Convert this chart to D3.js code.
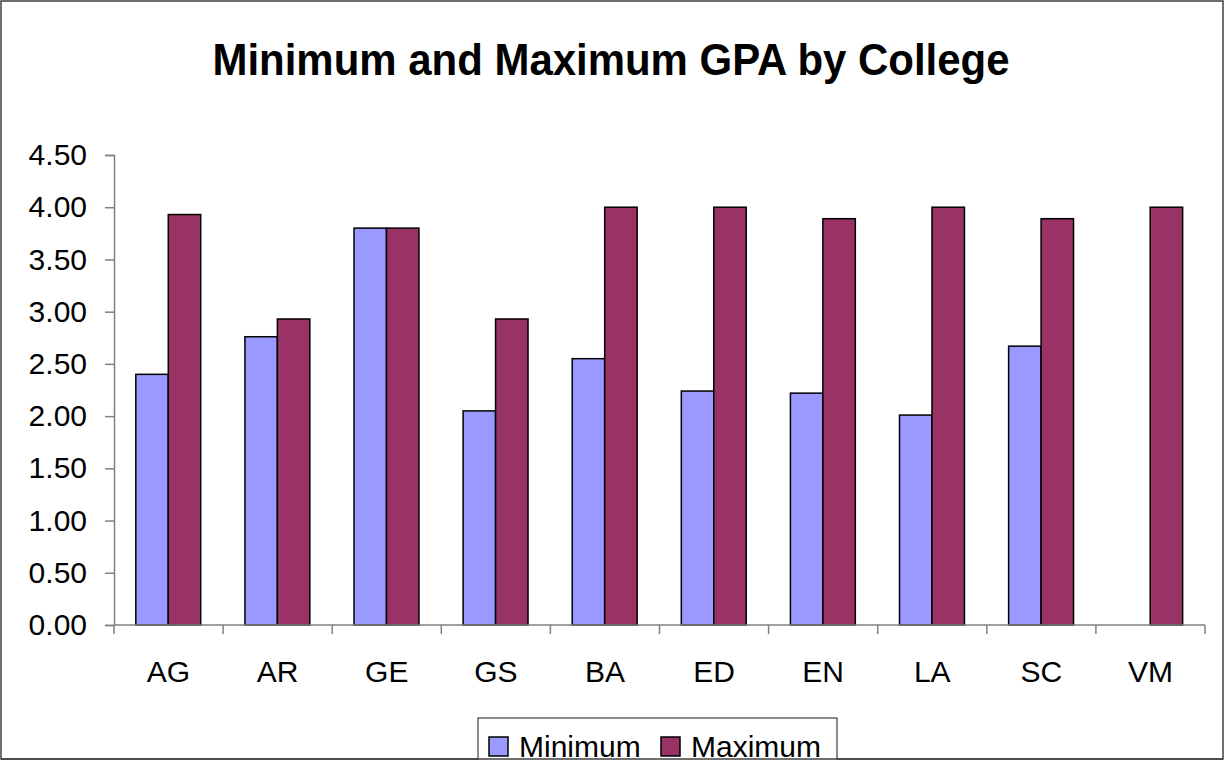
<!DOCTYPE html>
<html>
<head>
<meta charset="utf-8">
<script src="https://cdn.jsdelivr.net/npm/d3@7"></script>
<style>
  body { margin: 0; background: #fff; }
  svg text { font-family: "Liberation Sans", Arial, sans-serif; fill: #000; }
</style>
</head>
<body>
<div id="chart"></div>
<script>
const colleges = ["AG", "AR", "GE", "GS", "BA", "ED", "EN", "LA", "SC", "VM"];
const minimumGpa = [2.40, 2.76, 3.80, 2.05, 2.55, 2.24, 2.22, 2.01, 2.67, 0];
const maximumGpa = [3.93, 2.93, 3.80, 2.93, 4.00, 4.00, 3.89, 4.00, 3.89, 4.00];
const seriesNames = ["Minimum", "Maximum"];
const seriesColors = ["#9999FF", "#993366"];
const yTicks = [0, 0.5, 1, 1.5, 2, 2.5, 3, 3.5, 4, 4.5];

const W = 1225, H = 761;
const plot = { left: 114, right: 1205, top: 155, bottom: 625 };

const svg = d3.select("#chart")
  .append("svg")
  .attr("width", W)
  .attr("height", H);

// outer frame
svg.append("rect")
  .attr("x", 1).attr("y", 1)
  .attr("width", 1222).attr("height", 758)
  .attr("fill", "#fff")
  .attr("stroke", "#404040")
  .attr("stroke-width", 1.5);

// Title
svg.append("text")
  .attr("x", 611)
  .attr("y", 75)
  .attr("text-anchor", "middle")
  .attr("font-size", 44)
  .attr("font-weight", "bold")
  .attr("textLength", 797)
  .attr("lengthAdjust", "spacingAndGlyphs")
  .text("Minimum and Maximum GPA by College");

const x0 = d3.scaleBand()
  .domain(colleges)
  .range([plot.left, plot.right]);

const bw = x0.bandwidth();
const x1 = d3.scaleBand()
  .domain(seriesNames)
  .range([bw * 0.2, bw * 0.795]);

const y = d3.scaleLinear()
  .domain([0, 4.5])
  .range([plot.bottom, plot.top]);

const data = colleges.map((c, i) => ({
  college: c,
  values: [minimumGpa[i], maximumGpa[i]]
}));

// Bars
const groups = svg.append("g")
  .selectAll("g")
  .data(data)
  .enter()
  .append("g")
  .attr("transform", (d) => `translate(${x0(d.college)},0)`);

groups.selectAll("rect")
  .data((d) => d.values.map((v, i) => ({ key: seriesNames[i], value: v, i })))
  .enter()
  .filter((d) => d.value > 0)
  .append("rect")
  .attr("x", (d) => x1(d.key))
  .attr("y", (d) => y(d.value))
  .attr("width", x1.bandwidth())
  .attr("height", (d) => y(0) - y(d.value))
  .attr("fill", (d) => seriesColors[d.i])
  .attr("stroke", "#000")
  .attr("stroke-width", 1.5);

// Y axis
const yAxis = svg.append("g")
  .attr("transform", `translate(${plot.left},0)`)
  .call(d3.axisLeft(y).tickValues(yTicks).tickFormat(d3.format(".2f")).tickSize(9).tickPadding(18));
yAxis.selectAll("text").attr("font-size", 30).attr("fill", "#000");

// X axis: ticks at band boundaries
const xAxis = svg.append("g")
  .attr("transform", `translate(0,${plot.bottom})`);
xAxis.append("line")
  .attr("x1", plot.left).attr("x2", plot.right)
  .attr("stroke", "#808080").attr("stroke-width", 1.5);
const bounds = colleges.map((c) => x0(c)).concat([plot.right]);
xAxis.selectAll(".tick-mark")
  .data(bounds)
  .enter()
  .append("line")
  .attr("class", "tick-mark")
  .attr("x1", (d) => d).attr("x2", (d) => d)
  .attr("y1", 0).attr("y2", 9)
  .attr("stroke", "#808080").attr("stroke-width", 1.5);
xAxis.selectAll(".cat")
  .data(colleges)
  .enter()
  .append("text")
  .attr("class", "cat")
  .attr("x", (d) => x0(d) + bw / 2)
  .attr("y", 57)
  .attr("text-anchor", "middle")
  .attr("font-size", 30)
  .text((d) => d);

yAxis.select(".domain").attr("stroke", "#808080").attr("stroke-width", 1.5);
yAxis.selectAll(".tick line").attr("stroke", "#808080").attr("stroke-width", 1.5);

// Legend
const legend = svg.append("g");
legend.append("rect")
  .attr("x", 478).attr("y", 718)
  .attr("width", 359).attr("height", 60)
  .attr("fill", "#fff")
  .attr("stroke", "#404040")
  .attr("stroke-width", 1.2);
const legendX = [489, 661];
seriesNames.forEach((name, i) => {
  legend.append("rect")
    .attr("x", legendX[i]).attr("y", 737)
    .attr("width", 19).attr("height", 19)
    .attr("fill", seriesColors[i])
    .attr("stroke", "#000")
    .attr("stroke-width", 1.5);
  legend.append("text")
    .attr("x", legendX[i] + 30)
    .attr("y", 757)
    .attr("font-size", 30)
    .text(name);
});

// redraw frame bottom edge over legend overflow
svg.append("rect")
  .attr("x", 0).attr("y", 760)
  .attr("width", W).attr("height", 1)
  .attr("fill", "#fff");
svg.append("line")
  .attr("x1", 1).attr("x2", 1223)
  .attr("y1", 759).attr("y2", 759)
  .attr("stroke", "#404040").attr("stroke-width", 1.5);
</script>
</body>
</html>
